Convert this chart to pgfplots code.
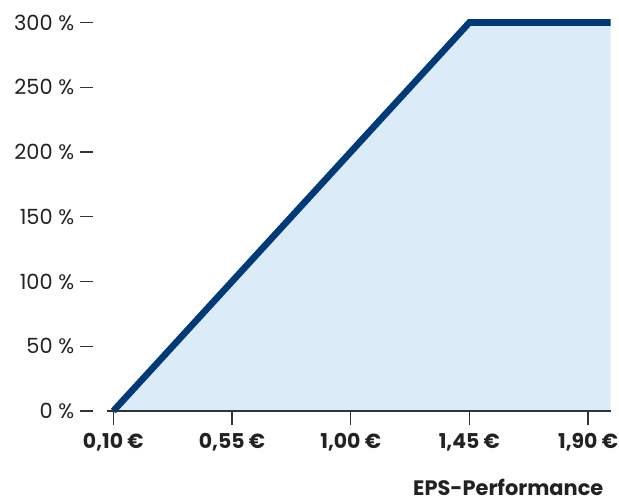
\documentclass[border=0pt]{standalone}
\usepackage{pgfplots}
\pgfplotsset{compat=1.18}
\usepackage{fontspec}
\setmainfont{Poppins}
\definecolor{linecol}{HTML}{003A78}
\definecolor{fillcol}{HTML}{DCEBF8}
\definecolor{txt}{HTML}{222222}
\definecolor{axcol}{HTML}{333333}
\newcommand{\yl}[1]{#1 \%\ \textcolor{axcol}{\rule[0.33em]{13bp}{1.25bp}}}
\begin{document}
\begin{tikzpicture}
\useasboundingbox (-107bp,-91bp) rectangle (512bp,411bp);
\begin{axis}[
  scale only axis,
  width=503.5bp, height=388.5bp,
  xmin=0.076, xmax=1.985,
  ymin=0, ymax=300,
  clip=false,
  axis on top,
  axis x line*=bottom,
  axis y line*=left,
  y axis line style={draw=none},
  x axis line style={draw=axcol, line width=1.3bp},
  ytick={0,50,100,150,200,250,300},
  yticklabels={\yl{0},\yl{50},\yl{100},\yl{150},\yl{200},\yl{250},\yl{300}},
  ytick style={draw=none},
  xtick={0.10,0.55,1.00,1.45,1.90},
  xticklabels={{0,10 €},{0,55 €},{1,00 €},{1,45 €},{1,90 €}},
  xtick style={draw=axcol, line width=1.3bp},
  tick align=outside,
  major tick length=14bp,
  yticklabel style={font=\fontsize{21}{24}\selectfont, text=txt, anchor=east, inner sep=0pt, xshift=0bp},
  xticklabel style={font=\bfseries\fontsize{20.5}{24}\selectfont, text=txt, inner sep=0pt, yshift=-8bp},
]
\addplot[fill=fillcol, draw=none] coordinates {(0.10,0) (1.45,300) (1.985,300) (1.985,0)} \closedcycle;
\addplot[linecol, line width=6.6bp, line join=miter] coordinates {(0.10,0) (1.45,300) (1.985,300)};
\end{axis}
\node[anchor=east, font=\bfseries\fontsize{21}{24}\selectfont, text=txt, inner sep=0pt] at (503.5bp-7bp,-76bp) {EPS-Performance};
\end{tikzpicture}
\end{document}
